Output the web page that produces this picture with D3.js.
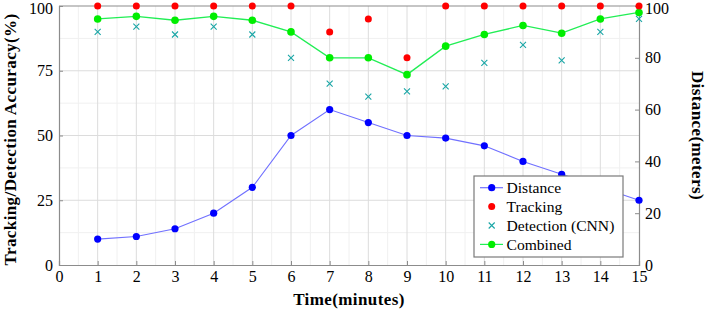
<!DOCTYPE html>
<html>
<head>
<meta charset="utf-8">
<script src="https://cdn.jsdelivr.net/npm/d3@7"></script>
<style>
  body { margin: 0; background: #fff; }
  text { font-family: "Liberation Serif", "DejaVu Serif", serif; fill: #000; }
</style>
</head>
<body>
<div id="chart"></div>
<script>
"use strict";

// Values.
const times = [1, 2, 3, 4, 5, 6, 7, 8, 9, 10, 11, 12, 13, 14, 15];
const distance = [10, 11, 14, 20, 30, 50, 60, 55, 50, 49, 46, 40, 35, 30, 25];
const tracking = [100, 100, 100, 100, 100, 100, 90, 95, 80, 100, 100, 100, 100, 100, 100];
const detection = [90, 92, 89, 92, 89, 80, 70, 65, 67, 69, 78, 85, 79, 90, 95];
const combined = [95, 96, 94.5, 96, 94.5, 90, 80, 80, 73.5, 84.5, 89, 92.5, 89.5, 95, 97.5];
const xTicks = d3.range(0, 16);
const leftTicks = [0, 25, 50, 75, 100];
const rightTicks = [0, 20, 40, 60, 80, 100];
const legendLabels = ["Distance", "Tracking", "Detection (CNN)", "Combined"];

const width = 706, height = 310;
const margin = {top: 6, right: 67, bottom: 45, left: 59};
const innerW = width - margin.left - margin.right;
const innerH = height - margin.top - margin.bottom;

const svg = d3.select("#chart").append("svg")
    .attr("width", width)
    .attr("height", height);
const g = svg.append("g").attr("transform", `translate(${margin.left},${margin.top})`);

const x = d3.scaleLinear().domain([0, 15]).range([0, innerW]);
const y = d3.scaleLinear().domain([0, 100]).range([innerH, 0]);
const yRight = d3.scaleLinear().domain([0, 100]).range([innerH, 0]);

// Grid: minor lines first, then major.
const minorX = d3.range(0.5, 15, 1);
const minorY = d3.range(12.5, 100, 25);
g.append("g").selectAll("line").data(minorX).enter().append("line")
    .attr("x1", d => x(d)).attr("x2", d => x(d))
    .attr("y1", 0).attr("y2", innerH)
    .style("stroke", "#f0f0f0");
g.append("g").selectAll("line").data(minorY).enter().append("line")
    .attr("x1", 0).attr("x2", innerW)
    .attr("y1", d => y(d)).attr("y2", d => y(d))
    .style("stroke", "#f0f0f0");
g.append("g").selectAll("line").data(xTicks.slice(1, -1)).enter().append("line")
    .attr("x1", d => x(d)).attr("x2", d => x(d))
    .attr("y1", 0).attr("y2", innerH)
    .style("stroke", "#dcdcdc");
g.append("g").selectAll("line").data(leftTicks.slice(1, -1)).enter().append("line")
    .attr("x1", 0).attr("x2", innerW)
    .attr("y1", d => y(d)).attr("y2", d => y(d))
    .style("stroke", "#dcdcdc");

// Axes
const tickFont = "16px";
const xAxis = g.append("g").attr("transform", `translate(0,${innerH})`)
    .call(d3.axisBottom(x).tickValues(xTicks).tickSize(-4).tickPadding(6).tickFormat(d3.format("d")));
const leftAxis = g.append("g")
    .call(d3.axisLeft(y).tickValues(leftTicks).tickSize(-4).tickPadding(6));
const rightAxis = g.append("g").attr("transform", `translate(${innerW},0)`)
    .call(d3.axisRight(yRight).tickValues(rightTicks).tickSize(-4).tickPadding(6));
[xAxis, leftAxis, rightAxis].forEach(a => {
    a.select(".domain").style("stroke", "#8c8c8c").style("stroke-width", 1.2);
    a.selectAll(".tick line").style("stroke", "#8c8c8c");
    a.selectAll("text").style("font-size", tickFont)
        .style("font-family", "'Liberation Serif', serif").attr("fill", "#000");
});
// keep the top labels inside the picture
leftAxis.selectAll(".tick text").filter(d => d === 100).attr("dy", "0.38em").attr("y", 1);
rightAxis.selectAll(".tick text").filter(d => d === 100).attr("dy", "0.38em").attr("y", 1);
// top frame
g.append("line")
    .attr("x1", 0).attr("x2", innerW).attr("y1", 0).attr("y2", 0)
    .style("stroke", "#8c8c8c").style("stroke-width", 1.2);

// Axis labels
const labelStyle = sel => sel.style("font-size", "17px").style("font-weight", "bold")
    .style("letter-spacing", "0.4px");
svg.append("text")
    .attr("x", margin.left + innerW / 2).attr("y", 305)
    .attr("text-anchor", "middle")
    .call(labelStyle)
    .text("Time(minutes)");
svg.append("text")
    .attr("transform", `translate(16,${margin.top + innerH / 2 + 4}) rotate(-90)`)
    .attr("text-anchor", "middle")
    .call(labelStyle)
    .text("Tracking/Detection Accuracy(%)");
svg.append("text")
    .attr("transform", `translate(692,${margin.top + innerH / 2}) rotate(90)`)
    .attr("text-anchor", "middle")
    .call(labelStyle)
    .text("Distance(meters)");

// Series
const blue = "#0000ff", blueLine = "#7070ff";
const red = "#ff0000";
const teal = "#1aa6a6";
const green = "#00ee00", greenLine = "#22ee55";

const line = (scale) => d3.line().x((d, i) => x(times[i])).y(d => scale(d));

g.append("path").datum(distance)
    .attr("d", line(yRight))
    .style("fill", "none").style("stroke", blueLine).style("stroke-width", 1.1);
g.append("g").selectAll("circle").data(distance).enter().append("circle")
    .attr("cx", (d, i) => x(times[i])).attr("cy", d => yRight(d))
    .attr("r", 3.6).style("fill", blue);

g.append("path").datum(combined)
    .attr("d", line(y))
    .style("fill", "none").style("stroke", greenLine).style("stroke-width", 1.3);
g.append("g").selectAll("circle").data(combined).enter().append("circle")
    .attr("cx", (d, i) => x(times[i])).attr("cy", d => y(d))
    .attr("r", 3.8).style("fill", green);

g.append("g").selectAll("circle").data(tracking).enter().append("circle")
    .attr("cx", (d, i) => x(times[i])).attr("cy", d => y(d))
    .attr("r", 3.5).style("fill", red);

const cross = (sel, s) => sel.append("path")
    .attr("d", `M${-s},${-s}L${s},${s}M${-s},${s}L${s},${-s}`)
    .style("stroke", teal).style("stroke-width", 1.1).style("fill", "none");
const det = g.append("g").selectAll("g").data(detection).enter().append("g")
    .attr("transform", (d, i) => `translate(${x(times[i])},${y(d)})`);
cross(det, 3);

// Legend
const legend = svg.append("g").attr("transform", "translate(474,176)");
legend.append("rect")
    .attr("width", 149).attr("height", 81)
    .style("fill", "#fff").style("stroke", "#7a7a7a").style("stroke-width", 1.2);
const rows = legend.selectAll(".row").data(legendLabels).enter().append("g")
    .attr("class", "row")
    .attr("transform", (d, i) => `translate(0,${11.7 + i * 18.9})`);
rows.append("text")
    .attr("x", 32.5).attr("y", 5.5)
    .style("font-size", "15.6px")
    .text(d => d);
rows.each(function (d, i) {
    const r = d3.select(this);
    if (i === 0 || i === 3) {
        r.append("line").attr("x1", 6).attr("x2", 29).attr("y1", 0).attr("y2", 0)
            .style("stroke", i === 0 ? blueLine : greenLine).style("stroke-width", 1.2);
        r.append("circle").attr("cx", 17.7).attr("cy", 0).attr("r", 3.6)
            .style("fill", i === 0 ? blue : green);
    } else if (i === 1) {
        r.append("circle").attr("cx", 17.7).attr("cy", 0).attr("r", 3.5).style("fill", red);
    } else {
        cross(r.append("g").attr("transform", "translate(17.7,0)"), 3);
    }
});
</script>
</body>
</html>
